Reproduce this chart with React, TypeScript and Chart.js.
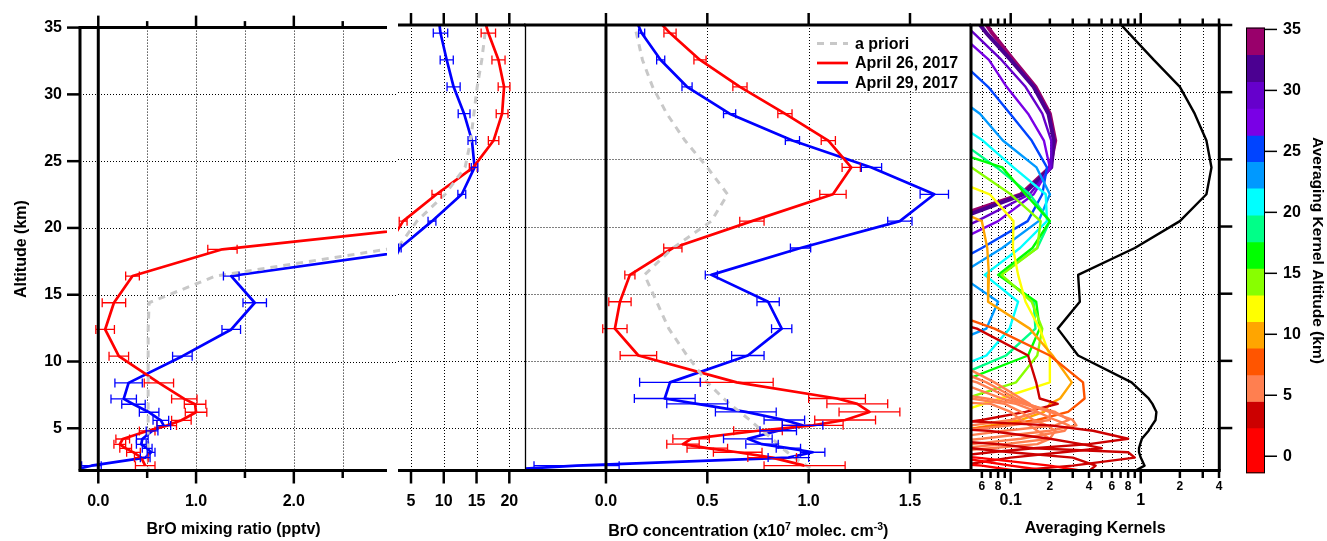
import React, { useEffect, useRef } from "react";
import { Chart, registerables } from "chart.js";

Chart.register(...registerables);

const FONT = "'Liberation Sans', Arial, Helvetica, sans-serif";
Chart.defaults.font.family = FONT;
Chart.defaults.font.size = 16;
Chart.defaults.font.weight = "bold";
Chart.defaults.color = "#000";

const W = 1327;
const H = 541;

// ---------------- data ----------------
const ALTITUDE = [36.4, 34.4, 32.4, 30.4, 28.4, 26.4, 24.4, 22.4, 20.4, 18.4, 16.4, 14.4, 12.4, 10.4, 8.4, 7.2, 6.8, 6.2, 5.6, 5.2, 4.8, 4.2, 3.8, 3.5, 3.2, 2.8, 2.2, 1.8];

// BrO mixing ratio (pptv)
const APRIORI_MIX = [16.5, 16.3, 15.8, 15.1, 14.6, 14.1, 13.25, 10.2, 5.9, 2.95, 1.2, 0.52, 0.51, 0.51, 0.51, 0.51, 0.51, 0.51, 0.51, 0.51, 0.51, 0.51, 0.51, 0.51, 0.51, 0.51, 0.51, 0.51];
const APR26_MIX = [15.6, 16.8, 18.35, 19.2, 18.9, 17.6, 14.5, 8.9, 3.8, 1.27, 0.35, 0.16, 0.07, 0.21, 0.62, 0.88, 0.99, 1.0, 0.85, 0.7, 0.5, 0.25, 0.22, 0.28, 0.36, 0.44, 0.48, null];
const APR26_MIX_ERR = [null, 1.1, 1.0, 0.9, 0.9, 0.8, 0.6, 0.7, 0.6, 0.15, 0.07, 0.12, 0.095, 0.1, 0.15, 0.13, 0.11, 0.11, 0.1, 0.1, 0.08, 0.07, 0.06, 0.06, 0.07, 0.07, 0.1, null];
const APR29_MIX = [9.0, 9.5, 10.45, 11.5, 13.1, 14.3, 14.7, 12.75, 8.2, 3.3, 1.36, 1.6, 1.36, 0.86, 0.31, 0.26, 0.36, 0.52, 0.64, 0.67, 0.55, 0.45, 0.44, 0.5, 0.54, 0.48, -0.07, -0.3];
const APR29_MIX_ERR = [null, 1.1, 1.0, 1.0, 0.9, 0.6, 0.5, 0.6, 0.6, 0.2, 0.08, 0.12, 0.095, 0.1, 0.14, 0.13, 0.12, 0.1, 0.08, 0.07, 0.06, 0.06, 0.05, 0.05, 0.04, 0.05, 0.1, null];

// BrO concentration (x10^7 molec cm^-3)
const APRIORI_CONC = [0.12, 0.15, 0.18, 0.23, 0.3, 0.39, 0.5, 0.6, 0.52, 0.33, 0.19, 0.25, 0.31, 0.4, 0.5, 0.58, 0.61, 0.66, 0.71, 0.74, 0.77, 0.82, 0.85, 0.87, 0.895, 0.93, 0.99, 1.03];
const APR26_CONC = [0.19, 0.316, 0.464, 0.661, 0.883, 1.097, 1.21, 1.12, 0.72, 0.33, 0.118, 0.069, 0.044, 0.16, 0.645, 1.14, 1.24, 1.3, 1.18, 1.02, 0.75, 0.42, 0.38, 0.5, 0.65, 0.82, 0.98, null];
const APR26_CONC_ERR = [null, 0.03, 0.03, 0.035, 0.035, 0.035, 0.045, 0.065, 0.06, 0.045, 0.025, 0.055, 0.06, 0.09, 0.18, 0.14, 0.15, 0.15, 0.15, 0.15, 0.12, 0.09, 0.08, 0.1, 0.12, 0.12, 0.2, null];
const APR29_CONC = [0.12, 0.176, 0.27, 0.4, 0.61, 0.92, 1.31, 1.62, 1.45, 0.96, 0.52, 0.8, 0.867, 0.7, 0.316, 0.29, 0.45, 0.69, 0.88, 0.97, 0.85, 0.7, 0.77, 0.9, 1.02, 0.9, -0.145, -0.6];
const APR29_CONC_ERR = [null, 0.015, 0.02, 0.025, 0.03, 0.035, 0.05, 0.07, 0.06, 0.05, 0.03, 0.055, 0.05, 0.08, 0.15, 0.15, 0.15, 0.15, 0.1, 0.1, 0.09, 0.12, 0.08, 0.06, 0.06, 0.1, 0.21, null];

// Averaging kernels (one row per kernel, values at ALTITUDE levels)
const AK_K34 = [0.052, 0.072, 0.105, 0.155, 0.2, 0.22, 0.2, 0.12, 0.03, 0.01, 0.01, 0.01, 0.01, 0.01, 0.01, 0.01, 0.01, 0.01, 0.01, 0.01, 0.01, 0.01, 0.01, 0.01, 0.01, 0.01, 0.01, 0.01];
const AK_K32 = [0.045, 0.065, 0.1, 0.15, 0.195, 0.215, 0.205, 0.125, 0.035, 0.01, 0.01, 0.01, 0.01, 0.01, 0.01, 0.01, 0.01, 0.01, 0.01, 0.01, 0.01, 0.01, 0.01, 0.01, 0.01, 0.01, 0.01, 0.01];
const AK_K30 = [0.03, 0.052, 0.085, 0.13, 0.175, 0.205, 0.205, 0.14, 0.055, 0.02, 0.01, 0.01, 0.01, 0.01, 0.01, 0.01, 0.01, 0.01, 0.01, 0.01, 0.01, 0.01, 0.01, 0.01, 0.01, 0.01, 0.01, 0.01];
const AK_K28 = [0.015, 0.04, 0.068, 0.093, 0.136, 0.18, 0.2, 0.15, 0.08, 0.03, 0.01, 0.01, 0.01, 0.01, 0.01, 0.01, 0.01, 0.01, 0.01, 0.01, 0.01, 0.01, 0.01, 0.01, 0.01, 0.01, 0.01, 0.01];
const AK_K26 = [0.01, 0.015, 0.04, 0.067, 0.099, 0.145, 0.19, 0.175, 0.135, 0.06, 0.025, 0.01, 0.01, 0.01, 0.01, 0.01, 0.01, 0.01, 0.01, 0.01, 0.01, 0.01, 0.01, 0.01, 0.01, 0.01, 0.01, 0.01];
const AK_K24 = [0.01, 0.01, 0.01, 0.03, 0.058, 0.087, 0.158, 0.2, 0.164, 0.086, 0.04, 0.08, 0.065, 0.02, 0.01, 0.01, 0.01, 0.01, 0.01, 0.01, 0.01, 0.01, 0.01, 0.01, 0.01, 0.01, 0.01, 0.01];
const AK_K22 = [0.01, 0.01, 0.01, 0.01, 0.03, 0.061, 0.105, 0.186, 0.19, 0.118, 0.063, 0.114, 0.098, 0.065, 0.02, 0.01, 0.01, 0.01, 0.01, 0.01, 0.01, 0.01, 0.01, 0.01, 0.01, 0.01, 0.01, 0.01];
const AK_K20 = [0.01, 0.01, 0.01, 0.01, 0.01, 0.04, 0.078, 0.14, 0.2, 0.16, 0.083, 0.15, 0.155, 0.092, 0.03, 0.01, 0.01, 0.01, 0.01, 0.01, 0.01, 0.01, 0.01, 0.01, 0.01, 0.01, 0.01, 0.01];
const AK_K18 = [0.01, 0.01, 0.01, 0.01, 0.01, 0.02, 0.086, 0.13, 0.2, 0.147, 0.08, 0.157, 0.167, 0.136, 0.04, 0.01, 0.01, 0.01, 0.01, 0.01, 0.01, 0.01, 0.01, 0.01, 0.01, 0.01, 0.01, 0.01];
const AK_K16 = [0.01, 0.01, 0.01, 0.01, 0.01, 0.01, 0.05, 0.1, 0.17, 0.16, 0.085, 0.145, 0.175, 0.16, 0.11, 0.045, 0.02, 0.01, 0.01, 0.01, 0.01, 0.01, 0.01, 0.01, 0.01, 0.01, 0.01, 0.01];
const AK_K14 = [0.01, 0.01, 0.01, 0.01, 0.01, 0.01, 0.02, 0.069, 0.105, 0.104, 0.114, 0.13, 0.167, 0.2, 0.2, 0.083, 0.062, 0.04, 0.02, 0.01, 0.01, 0.01, 0.01, 0.01, 0.01, 0.01, 0.01, 0.01];
const AK_K12 = [0.01, 0.01, 0.01, 0.01, 0.01, 0.01, 0.01, 0.02, 0.06, 0.066, 0.068, 0.067, 0.14, 0.21, 0.295, 0.24, 0.2, 0.18, 0.12, 0.07, 0.04, 0.02, 0.01, 0.01, 0.01, 0.01, 0.01, 0.01];
const AK_K10 = [0.01, 0.01, 0.01, 0.01, 0.01, 0.01, 0.01, 0.01, 0.01, 0.01, 0.01, 0.02, 0.075, 0.2, 0.36, 0.37, 0.33, 0.276, 0.16, 0.08, 0.04, 0.02, 0.01, 0.01, 0.01, 0.01, 0.01, 0.01];
const AK_K4B = [0.01, 0.01, 0.01, 0.01, 0.01, 0.01, 0.01, 0.01, 0.01, 0.01, 0.01, 0.01, 0.055, 0.136, 0.157, 0.167, 0.23, 0.13, 0.06, 0.03, 0.01, 0.01, 0.01, 0.01, 0.01, 0.01, 0.01, 0.01];
const AK_K8 = [0.01, 0.01, 0.01, 0.01, 0.01, 0.01, 0.01, 0.01, 0.01, 0.01, 0.01, 0.01, 0.01, 0.03, 0.075, 0.12, 0.14, 0.16, 0.1, 0.05, 0.02, 0.01, 0.01, 0.01, 0.01, 0.01, 0.01, 0.01];
const AK_K7 = [0.01, 0.01, 0.01, 0.01, 0.01, 0.01, 0.01, 0.01, 0.01, 0.01, 0.01, 0.01, 0.01, 0.02, 0.065, 0.11, 0.135, 0.2, 0.2, 0.1, 0.04, 0.01, 0.01, 0.01, 0.01, 0.01, 0.01, 0.01];
const AK_K6H = [0.01, 0.01, 0.01, 0.01, 0.01, 0.01, 0.01, 0.01, 0.01, 0.01, 0.01, 0.01, 0.01, 0.01, 0.055, 0.1, 0.13, 0.22, 0.28, 0.22, 0.09, 0.03, 0.01, 0.01, 0.01, 0.01, 0.01, 0.01];
const AK_K6 = [0.01, 0.01, 0.01, 0.01, 0.01, 0.01, 0.01, 0.01, 0.01, 0.01, 0.01, 0.01, 0.01, 0.01, 0.04, 0.085, 0.125, 0.2, 0.3, 0.32, 0.2, 0.06, 0.02, 0.01, 0.01, 0.01, 0.01, 0.01];
const AK_K56 = [0.01, 0.01, 0.01, 0.01, 0.01, 0.01, 0.01, 0.01, 0.01, 0.01, 0.01, 0.01, 0.01, 0.01, 0.01, 0.065, 0.11, 0.16, 0.22, 0.28, 0.26, 0.12, 0.05, 0.02, 0.01, 0.01, 0.01, 0.01];
const AK_K52 = [0.01, 0.01, 0.01, 0.01, 0.01, 0.01, 0.01, 0.01, 0.01, 0.01, 0.01, 0.01, 0.01, 0.01, 0.01, 0.05, 0.09, 0.12, 0.15, 0.19, 0.22, 0.2, 0.09, 0.04, 0.01, 0.01, 0.01, 0.01];
const AK_K48 = [0.01, 0.01, 0.01, 0.01, 0.01, 0.01, 0.01, 0.01, 0.01, 0.01, 0.01, 0.01, 0.01, 0.01, 0.01, 0.01, 0.07, 0.1, 0.12, 0.14, 0.16, 0.2, 0.16, 0.07, 0.03, 0.01, 0.01, 0.01];
const AK_K42 = [0.01, 0.01, 0.01, 0.01, 0.01, 0.01, 0.01, 0.01, 0.01, 0.01, 0.01, 0.01, 0.01, 0.01, 0.01, 0.01, 0.01, 0.01, 0.03, 0.2, 0.43, 0.8, 0.4, 0.15, 0.07, 0.03, 0.01, 0.01];
const AK_K38 = [0.01, 0.01, 0.01, 0.01, 0.01, 0.01, 0.01, 0.01, 0.01, 0.01, 0.01, 0.01, 0.01, 0.01, 0.01, 0.01, 0.01, 0.01, 0.01, 0.01, 0.067, 0.2, 0.35, 0.5, 0.25, 0.1, 0.04, 0.02];
const AK_K35 = [0.01, 0.01, 0.01, 0.01, 0.01, 0.01, 0.01, 0.01, 0.01, 0.01, 0.01, 0.01, 0.01, 0.01, 0.01, 0.01, 0.01, 0.01, 0.01, 0.01, 0.01, 0.02, 0.08, 0.15, 0.8, 0.9, 0.3, 0.1];
const AK_K32L = [0.01, 0.01, 0.01, 0.01, 0.01, 0.01, 0.01, 0.01, 0.01, 0.01, 0.01, 0.01, 0.01, 0.01, 0.01, 0.01, 0.01, 0.01, 0.01, 0.01, 0.01, 0.01, 0.01, 0.05, 0.1, 0.3, 0.45, 0.4];
const AK_K28L = [0.01, 0.01, 0.01, 0.01, 0.01, 0.01, 0.01, 0.01, 0.01, 0.01, 0.01, 0.01, 0.01, 0.01, 0.01, 0.01, 0.01, 0.01, 0.01, 0.01, 0.01, 0.01, 0.01, 0.01, 0.01, 0.055, 0.2, 0.36];
const AK_K25L = [0.01, 0.01, 0.01, 0.01, 0.01, 0.01, 0.01, 0.01, 0.01, 0.01, 0.01, 0.01, 0.01, 0.01, 0.01, 0.01, 0.01, 0.01, 0.01, 0.01, 0.01, 0.01, 0.01, 0.01, 0.02, 0.04, 0.1, 0.2];
const AK_K22L = [0.01, 0.01, 0.01, 0.01, 0.01, 0.01, 0.01, 0.01, 0.01, 0.01, 0.01, 0.01, 0.01, 0.01, 0.01, 0.01, 0.01, 0.01, 0.01, 0.01, 0.01, 0.01, 0.01, 0.01, 0.01, 0.01, 0.06, 0.114];
const AK_TOTAL = [0.52, 0.81, 1.26, 2.0, 2.6, 3.2, 3.5, 3.2, 2.0, 0.9, 0.33, 0.34, 0.23, 0.33, 0.85, 1.15, 1.23, 1.32, 1.3, 1.22, 1.15, 1.02, 0.99, 0.97, 0.97, 1.0, 1.07, 0.9];

// drawn from lowest to highest so the upper kernels sit on top
const AK_ROWS = [AK_K22L, AK_K25L, AK_K28L, AK_K32L, AK_K35, AK_K38, AK_K42, AK_K48, AK_K52, AK_K56, AK_K6, AK_K6H, AK_K7, AK_K8, AK_K4B, AK_K10, AK_K12, AK_K14, AK_K16, AK_K18, AK_K20, AK_K22, AK_K24, AK_K26, AK_K28, AK_K30, AK_K32, AK_K34];

// colour bar bands (km)
const CB_EDGES = [35.15, 32.93, 30.72, 28.53, 26.31, 24.15, 21.98, 19.77, 17.58, 15.41, 13.2, 11.03, 8.87, 6.66, 4.49, 2.33, -1.4];
const CB_TICKS = [0, 5, 10, 15, 20, 25, 30, 35];

// axis ticks
const ALT_TICKS = [5, 10, 15, 20, 25, 30, 35];
const ALT_GRID = [5, 10, 15, 20, 25, 30];
const MIX_LOW_TICKS = [0, 1, 2];
const MIX_LOW_MINOR = [0.5, 1.5, 2.5];
const MIX_LOW_GRID = [0.5, 1, 1.5, 2, 2.5];
const MIX_HIGH_TICKS = [5, 10, 15, 20];
const CONC_TICKS = [0, 0.5, 1, 1.5];
const CONC_GRID = [0.5, 1, 1.5];
const AK_MAJOR_TICKS = [0.1, 1];
const AK_MAJOR_LABELS = ["0.1", "1"];
const AK_MINOR_TICKS = [0.06, 0.07, 0.08, 0.09, 0.2, 0.3, 0.4, 0.5, 0.6, 0.7, 0.8, 0.9, 2, 3, 4];
const AK_LABEL_TICKS = [0.06, 0.08, 0.2, 0.4, 0.6, 0.8, 2, 4];
const AK_LABEL_TEXT = ["6", "8", "2", "4", "6", "8", "2", "4"];
const AK_GRID = [0.06, 0.07, 0.08, 0.09, 0.1, 0.2, 0.3, 0.4, 0.5, 0.6, 0.7, 0.8, 0.9, 1, 2, 3];

// ---------------- styles / layout ----------------
const RED = "#FF0000";
const BLUE = "#0000FF";
const GREY = "#C8C8C8";
const CB_COLORS = ["#99006B", "#4B0091", "#6600CC", "#7A00E6", "#0044FF", "#0099FF", "#00FFFF", "#00FF88", "#00FF00", "#88FF00", "#FFFF00", "#FFA500", "#FF5500", "#FF7F50", "#CC0000", "#FF0000"];
const AK_COLORS = ["#FF0000", "#FF0000", "#FF0000", "#CC0000", "#CC0000", "#CC0000", "#CC0000", "#FF7F50", "#FF7F50", "#FF7F50", "#FF7F50", "#FF7F50", "#FF7F50", "#FF7F50", "#CC0000", "#FF5500", "#FFA500", "#FFFF00", "#88FF00", "#00FF00", "#00FF88", "#00FFFF", "#0099FF", "#0044FF", "#7A00E6", "#6600CC", "#4B0091", "#99006B"];

const TOP = 25;
const BOTTOM = 470.5;
const Y_MIN = 1.84;
const Y_MAX = 35;
const P1 = { left: 80, right: 387, min: -0.187, max: 2.953 };
const P2 = { left: 398, right: 525.5, min: 3.016, max: 22.47 };
const P3 = { left: 525.5, right: 971, min: -0.397, max: 1.801 };
const P4 = { left: 971, right: 1219.3, min: 0.0495, max: 4.02 };
const CB = { left: 1246, right: 1265, top: 22.7, bottom: 473.3 };
const XAXIS_H = H - BOTTOM;

function profile(values: (number | null)[], errs?: (number | null)[]) {
  const data: { x: number; y: number }[] = [];
  const errors: (number | null)[] = [];
  values.forEach((v, i) => {
    if (v === null) return;
    data.push({ x: v, y: ALTITUDE[i] });
    errors.push(errs ? errs[i] : null);
  });
  return { data, errors };
}

function profileSets(apriori: number[], a26: any[], e26: any[], a29: any[], e29: any[]) {
  const common = { pointRadius: 0, fill: false, tension: 0, borderJoinStyle: "round" };
  return [
    { label: "a priori", ...profile(apriori), borderColor: GREY, borderWidth: 3, borderDash: [7, 6], ...common },
    { label: "April 26, 2017", ...profile(a26, e26), borderColor: RED, borderWidth: 2.7, ...common },
    { label: "April 29, 2017", ...profile(a29, e29), borderColor: BLUE, borderWidth: 2.7, ...common },
  ];
}

const tickList = (vals: number[]) => (s: any) => {
  s.ticks = vals.map((v) => ({ value: v }));
};

function hiddenY() {
  return { type: "linear", min: Y_MIN, max: Y_MAX, display: false };
}

function baseOptions(padding: any, scales: any) {
  return {
    animation: false,
    responsive: false,
    devicePixelRatio: 1,
    events: [],
    layout: { padding },
    plugins: { legend: { display: false }, tooltip: { enabled: false }, title: { display: false } },
    scales,
  };
}

interface DecorCfg {
  vGrid: number[];
  hGrid: number[];
  hGridExtend?: number;
  major: number[];
  minor: number[];
  zero?: boolean;
  leftBorder?: number;
  rightBorder?: number;
  leftTicks?: number[];
  rightTicks?: number[];
  legend?: boolean;
  concTitle?: boolean;
}

function line(ctx: CanvasRenderingContext2D, x1: number, y1: number, x2: number, y2: number) {
  ctx.beginPath();
  ctx.moveTo(x1, y1);
  ctx.lineTo(x2, y2);
  ctx.stroke();
}

function decor(cfg: DecorCfg) {
  return {
    id: "decor",
    beforeDatasetsDraw(chart: any) {
      const { ctx, chartArea: a } = chart;
      const xs = chart.scales.x;
      const ys = chart.scales.y;
      ctx.save();
      ctx.strokeStyle = "#000";
      ctx.lineWidth = 1;
      ctx.setLineDash([1, 2]);
      ctx.beginPath();
      cfg.vGrid.forEach((v) => {
        const p = Math.round(xs.getPixelForValue(v)) + 0.5;
        ctx.moveTo(p, a.top);
        ctx.lineTo(p, a.bottom);
      });
      cfg.hGrid.forEach((v) => {
        const p = Math.round(ys.getPixelForValue(v)) + 0.5;
        ctx.moveTo(a.left, p);
        ctx.lineTo(a.right + (cfg.hGridExtend || 0), p);
      });
      ctx.stroke();
      ctx.restore();
    },
    afterDatasetsDraw(chart: any) {
      const { ctx, chartArea: a } = chart;
      const xs = chart.scales.x;
      const ys = chart.scales.y;
      ctx.save();
      ctx.beginPath();
      ctx.rect(a.left, a.top, a.right - a.left, a.bottom - a.top);
      ctx.clip();
      ctx.setLineDash([]);
      chart.data.datasets.forEach((ds: any) => {
        if (!ds.errors) return;
        ctx.strokeStyle = ds.borderColor;
        ctx.lineWidth = 1.3;
        ds.data.forEach((p: any, i: number) => {
          const e = ds.errors[i];
          if (e === null || e === undefined) return;
          const y = ys.getPixelForValue(p.y);
          const x1 = xs.getPixelForValue(p.x - e);
          const x2 = xs.getPixelForValue(p.x + e);
          ctx.beginPath();
          ctx.moveTo(x1, y);
          ctx.lineTo(x2, y);
          ctx.moveTo(x1, y - 4.5);
          ctx.lineTo(x1, y + 4.5);
          ctx.moveTo(x2, y - 4.5);
          ctx.lineTo(x2, y + 4.5);
          ctx.stroke();
        });
      });
      ctx.restore();

      if (cfg.legend) {
        ctx.save();
        ctx.fillStyle = "#fff";
        ctx.fillRect(810, a.top + 2, a.right - 812, 62);
        chart.data.datasets.forEach((ds: any, i: number) => {
          const y = 43.5 + i * 19.5;
          ctx.strokeStyle = ds.borderColor;
          ctx.lineWidth = ds.borderWidth;
          ctx.setLineDash(ds.borderDash || []);
          line(ctx, 817, y, 848, y);
          ctx.setLineDash([]);
          ctx.fillStyle = "#000";
          ctx.font = `bold 16px ${FONT}`;
          ctx.textAlign = "left";
          ctx.textBaseline = "middle";
          ctx.fillText(ds.label, 855, y + 1);
        });
        ctx.restore();
      }
    },
    afterDraw(chart: any) {
      const { ctx, chartArea: a } = chart;
      const xs = chart.scales.x;
      const ys = chart.scales.y;
      ctx.save();
      ctx.strokeStyle = "#000";
      ctx.setLineDash([]);
      ctx.lineCap = "butt";
      ctx.lineWidth = 3;
      const l0 = cfg.leftBorder ? a.left - 1.5 : a.left;
      const r0 = cfg.rightBorder ? a.right + 1.5 : a.right;
      line(ctx, l0, a.top, r0, a.top);
      line(ctx, l0, a.bottom, r0, a.bottom);
      if (cfg.leftBorder) {
        ctx.lineWidth = cfg.leftBorder;
        line(ctx, a.left, a.top, a.left, a.bottom);
      }
      if (cfg.rightBorder) {
        ctx.lineWidth = cfg.rightBorder;
        line(ctx, a.right, a.top, a.right, a.bottom);
      }
      if (cfg.zero) {
        ctx.lineWidth = 3;
        const p = xs.getPixelForValue(0);
        line(ctx, p, a.top, p, a.bottom);
      }
      ctx.lineWidth = 2.5;
      cfg.major.forEach((v) => {
        const p = xs.getPixelForValue(v);
        line(ctx, p, a.top - 12, p, a.top);
        line(ctx, p, a.bottom, p, a.bottom + 13);
      });
      cfg.minor.forEach((v) => {
        const p = xs.getPixelForValue(v);
        line(ctx, p, a.top - 6.5, p, a.top);
        line(ctx, p, a.bottom, p, a.bottom + 7.5);
      });
      (cfg.leftTicks || []).forEach((v) => {
        const p = ys.getPixelForValue(v);
        line(ctx, a.left - 13, p, a.left, p);
      });
      (cfg.rightTicks || []).forEach((v) => {
        const p = ys.getPixelForValue(v);
        line(ctx, a.right, p, a.right + 13, p);
      });
      if (cfg.concTitle) {
        const parts = [
          { t: "BrO concentration (x10", sup: false },
          { t: "7", sup: true },
          { t: " molec. cm", sup: false },
          { t: "-3", sup: true },
          { t: ")", sup: false },
        ];
        const fN = `bold 16px ${FONT}`;
        const fS = `bold 10.5px ${FONT}`;
        let total = 0;
        parts.forEach((p) => {
          ctx.font = p.sup ? fS : fN;
          total += ctx.measureText(p.t).width;
        });
        let x = (a.left + a.right) / 2 - total / 2;
        ctx.fillStyle = "#000";
        ctx.textAlign = "left";
        ctx.textBaseline = "alphabetic";
        parts.forEach((p) => {
          ctx.font = p.sup ? fS : fN;
          ctx.fillText(p.t, x, p.sup ? 529.5 : 535.5);
          x += ctx.measureText(p.t).width;
        });
      }
      ctx.restore();
    },
  };
}

const colorbarDecor = {
  id: "cbdecor",
  afterDraw(chart: any) {
    const { ctx, chartArea: a } = chart;
    const ys = chart.scales.y;
    ctx.save();
    ctx.strokeStyle = "#000";
    ctx.lineWidth = 1;
    ctx.strokeRect(a.left + 0.5, a.top + 0.5, a.right - a.left - 1, a.bottom - a.top - 1);
    ctx.lineWidth = 1.5;
    CB_TICKS.forEach((v) => {
      const p = ys.getPixelForValue(v);
      line(ctx, a.right, p, a.right + 12, p);
    });
    ctx.restore();
  },
};

function bottomLinear(min: number, max: number, ticks: number[], fmt: (v: number) => string, title?: string) {
  return {
    type: "linear",
    position: "bottom",
    min,
    max,
    grid: { display: false, drawTicks: false },
    border: { display: false },
    afterBuildTicks: tickList(ticks),
    afterFit: (s: any) => {
      s.height = XAXIS_H;
    },
    ticks: { padding: 21, autoSkip: false, maxRotation: 0, minRotation: 0, callback: (v: any) => fmt(Number(v)), font: { size: 16, weight: "bold" } },
    title: title
      ? { display: true, text: title, font: { size: 16, weight: "bold" }, padding: { top: 0, bottom: 1.5 } }
      : { display: false },
  };
}

function buildConfigs() {
  const chart1 = {
    type: "line",
    data: { datasets: profileSets(APRIORI_MIX, APR26_MIX, APR26_MIX_ERR, APR29_MIX, APR29_MIX_ERR) },
    options: baseOptions(
      { left: 0, right: W - P1.right, top: TOP, bottom: 0 },
      {
        x: bottomLinear(P1.min, P1.max, MIX_LOW_TICKS, (v) => v.toFixed(1), "BrO mixing ratio (pptv)"),
        y: {
          type: "linear",
          position: "left",
          min: Y_MIN,
          max: Y_MAX,
          grid: { display: false, drawTicks: false },
          border: { display: false },
          afterBuildTicks: tickList(ALT_TICKS),
          afterFit: (s: any) => {
            s.width = P1.left;
          },
          ticks: { padding: 18, autoSkip: false, callback: (v: any) => String(v), font: { size: 16, weight: "bold" } },
          title: { display: true, text: "Altitude (km)", font: { size: 16, weight: "bold" }, padding: { top: 12.4, bottom: 0 } },
        },
      }
    ),
    plugins: [
      decor({ vGrid: MIX_LOW_GRID, hGrid: ALT_GRID, hGridExtend: P2.left - P1.right, major: MIX_LOW_TICKS, minor: MIX_LOW_MINOR, zero: true, leftBorder: 3, leftTicks: ALT_TICKS }),
    ],
  };

  const chart2 = {
    type: "line",
    data: { datasets: profileSets(APRIORI_MIX, APR26_MIX, APR26_MIX_ERR, APR29_MIX, APR29_MIX_ERR) },
    options: baseOptions(
      { left: P2.left, right: W - P2.right, top: TOP, bottom: 0 },
      { x: bottomLinear(P2.min, P2.max, MIX_HIGH_TICKS, (v) => String(v)), y: hiddenY() }
    ),
    plugins: [decor({ vGrid: MIX_HIGH_TICKS, hGrid: ALT_GRID, major: MIX_HIGH_TICKS, minor: [] })],
  };

  const chart3 = {
    type: "line",
    data: { datasets: profileSets(APRIORI_CONC, APR26_CONC, APR26_CONC_ERR, APR29_CONC, APR29_CONC_ERR) },
    options: baseOptions(
      { left: P3.left, right: W - P3.right, top: TOP, bottom: 0 },
      { x: bottomLinear(P3.min, P3.max, CONC_TICKS, (v) => v.toFixed(1)), y: hiddenY() }
    ),
    plugins: [decor({ vGrid: CONC_GRID, hGrid: ALT_GRID, major: CONC_TICKS, minor: [], zero: true, leftBorder: 1.3, legend: true, concTitle: true })],
  };

  const akSets: any[] = AK_ROWS.map((row, i) => ({
    label: "AK " + i,
    data: row.map((v, j) => ({ x: v, y: ALTITUDE[j] })),
    borderColor: AK_COLORS[i],
    borderWidth: i >= AK_ROWS.length - 2 ? 4 : 2.4,
    pointRadius: 0,
    fill: false,
    tension: 0,
    borderJoinStyle: "round",
  }));
  akSets.push({
    label: "total",
    data: AK_TOTAL.map((v, j) => ({ x: v, y: ALTITUDE[j] })),
    borderColor: "#000",
    borderWidth: 2.4,
    pointRadius: 0,
    fill: false,
    tension: 0,
    borderJoinStyle: "round",
  });

  const chart4 = {
    type: "line",
    data: { datasets: akSets },
    options: baseOptions(
      { left: P4.left, right: W - P4.right, top: TOP, bottom: 0 },
      {
        x: {
          type: "logarithmic",
          position: "bottom",
          weight: 0,
          min: P4.min,
          max: P4.max,
          grid: { display: false, drawTicks: false },
          border: { display: false },
          afterBuildTicks: tickList(AK_LABEL_TICKS),
          afterFit: (s: any) => {
            s.height = 20;
          },
          ticks: { padding: 8.5, autoSkip: false, maxRotation: 0, minRotation: 0, callback: (_v: any, i: number) => AK_LABEL_TEXT[i], font: { size: 12, weight: "bold" } },
        },
        x2: {
          type: "logarithmic",
          position: "bottom",
          weight: 1,
          min: P4.min,
          max: P4.max,
          grid: { display: false, drawTicks: false },
          border: { display: false },
          afterBuildTicks: tickList(AK_MAJOR_TICKS),
          afterFit: (s: any) => {
            s.height = XAXIS_H - 20;
          },
          ticks: { padding: 0.5, autoSkip: false, maxRotation: 0, minRotation: 0, callback: (_v: any, i: number) => AK_MAJOR_LABELS[i], font: { size: 16, weight: "bold" } },
          title: { display: true, text: "Averaging Kernels", font: { size: 16, weight: "bold" }, padding: { top: 0, bottom: 2.4 } },
        },
        y: hiddenY(),
      }
    ),
    plugins: [decor({ vGrid: AK_GRID, hGrid: ALT_GRID, major: AK_MAJOR_TICKS, minor: AK_MINOR_TICKS, leftBorder: 3, rightBorder: 3, rightTicks: ALT_TICKS })],
  };

  const chart5 = {
    type: "bar",
    data: {
      labels: [""],
      datasets: CB_COLORS.map((c, i) => ({
        label: "band " + i,
        data: [[CB_EDGES[i + 1], CB_EDGES[i]]],
        backgroundColor: c,
        borderWidth: 0,
        barPercentage: 1,
        categoryPercentage: 1,
        grouped: false,
      })),
    },
    options: baseOptions(
      { left: CB.left, right: 0, top: CB.top, bottom: H - CB.bottom },
      {
        x: { display: false },
        y: {
          type: "linear",
          position: "right",
          min: CB_EDGES[CB_EDGES.length - 1],
          max: CB_EDGES[0],
          grid: { display: false, drawTicks: false },
          border: { display: false },
          afterBuildTicks: tickList(CB_TICKS),
          afterFit: (s: any) => {
            s.width = W - CB.right;
          },
          ticks: { padding: 18, autoSkip: false, callback: (v: any) => String(v), font: { size: 16, weight: "bold" } },
          title: { display: true, text: "Averaging Kernel Altitude (km)", font: { size: 15.5, weight: "bold" }, padding: { top: 0, bottom: 0 } },
        },
      }
    ),
    plugins: [colorbarDecor],
  };

  return [chart1, chart2, chart3, chart4, chart5];
}

export default function App() {
  const r0 = useRef<HTMLCanvasElement>(null);
  const r1 = useRef<HTMLCanvasElement>(null);
  const r2 = useRef<HTMLCanvasElement>(null);
  const r3 = useRef<HTMLCanvasElement>(null);
  const r4 = useRef<HTMLCanvasElement>(null);
  const refs = [r0, r1, r2, r3, r4];

  useEffect(() => {
    const cfgs = buildConfigs();
    const charts = cfgs.map((cfg, i) => new Chart(refs[i].current as HTMLCanvasElement, cfg as any));
    return () => charts.forEach((c) => c.destroy());
  }, []);

  return (
    <div style={{ position: "fixed", left: 0, top: 0, width: W, height: H, background: "#fff" }}>
      {refs.map((r, i) => (
        <canvas key={i} ref={r} width={W} height={H} style={{ position: "absolute", left: 0, top: 0, width: W, height: H }} />
      ))}
    </div>
  );
}
